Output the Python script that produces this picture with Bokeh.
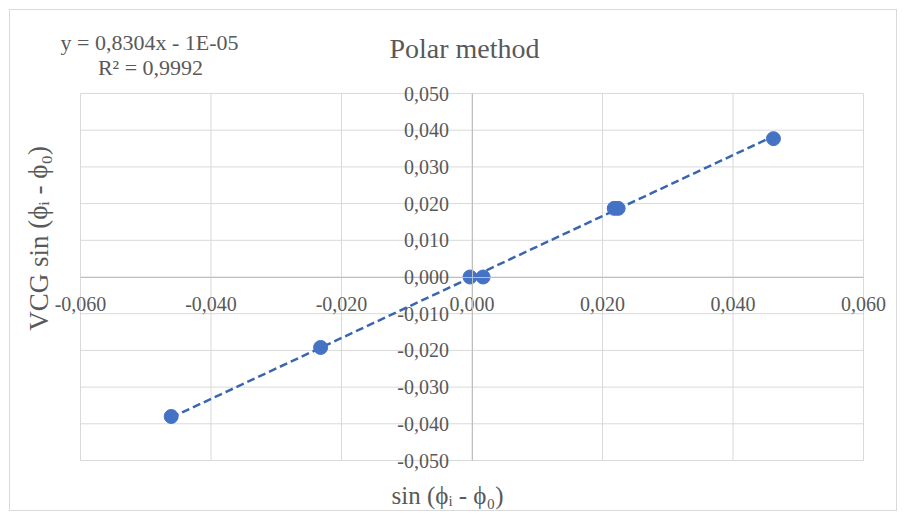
from bokeh.plotting import figure
from bokeh.models import FixedTicker, CustomJSTickFormatter, Label, Range1d
from bokeh.embed import file_html
from bokeh.resources import INLINE

# ---- data ----
x_vals = [-0.0461, -0.0232, -0.0003, 0.0017, 0.0218, 0.0224, 0.0462]
y_vals = [-0.0380, -0.0192, 0.0000, 0.0000, 0.0187, 0.0187, 0.0377]
slope = 0.8304
intercept = -1e-05
x_ticks = [-0.06, -0.04, -0.02, 0.0, 0.02, 0.04, 0.06]
y_ticks = [-0.05, -0.04, -0.03, -0.02, -0.01, 0.0, 0.01, 0.02, 0.03, 0.04, 0.05]
title_text = "Polar method"
eq_text = "y = 0,8304x - 1E-05"
r2_text = "R² = 0,9992"
x_label = "sin (ϕᵢ - ϕ₀)"
y_label = "VCG sin (ϕᵢ - ϕ₀)"

# ---- layout (canvas pixels) ----
W, H = 888, 502
OFF = 10                       # page offset of canvas (margin + border)
PL, PR, PT, PB = 70, 853, 83, 450   # plot-area edges on the canvas
XMIN, XMAX, YMIN, YMAX = x_ticks[0], x_ticks[-1], y_ticks[0], y_ticks[-1]
sx = (PR - PL) / (XMAX - XMIN)
sy = (PB - PT) / (YMAX - YMIN)
x_lo = XMIN - PL / sx
x_hi = XMAX + (W - PR) / sx
y_hi = YMAX + PT / sy
y_lo = YMIN - (H - PB) / sy

p = figure(width=W, height=H, output_backend="svg", toolbar_location=None,
           x_range=Range1d(x_lo, x_hi), y_range=Range1d(y_lo, y_hi),
           min_border=0)
p.styles = {"margin": "9px", "border": "1px solid #d9d9d9"}
p.outline_line_color = None
p.background_fill_color = "white"
p.border_fill_color = "white"
p.grid.visible = False

font = "'Liberation Serif', 'DejaVu Serif', serif"
grey = "#595959"
gridc = "#d9d9d9"

# grid lines limited to the plot area
p.segment(x0=x_ticks, y0=[YMIN] * len(x_ticks), x1=x_ticks, y1=[YMAX] * len(x_ticks),
          line_color=gridc, line_width=1)
p.segment(x0=[XMIN] * len(y_ticks), y0=y_ticks, x1=[XMAX] * len(y_ticks), y1=y_ticks,
          line_color=gridc, line_width=1)

fmt = CustomJSTickFormatter(code="return tick.toFixed(3).replace('.', ',');")
for ax, ticks, b in ((p.xaxis, x_ticks, (XMIN, XMAX)), (p.yaxis, y_ticks, (YMIN, YMAX))):
    ax.ticker = FixedTicker(ticks=ticks)
    ax.formatter = fmt
    ax.fixed_location = 0
    ax.bounds = b
    ax.axis_line_color = "#bfbfbf"
    ax.axis_line_width = 1
    ax.major_tick_line_color = None
    ax.minor_tick_line_color = None
    ax.major_label_text_font = font
    ax.major_label_text_font_size = "20px"
    ax.major_label_text_color = grey
p.xaxis.major_label_standoff = 14
p.yaxis.major_label_standoff = 17

# trendline
tx = [min(x_vals), max(x_vals)]
ty = [slope * v + intercept for v in tx]
p.line(tx, ty, line_color="#3a66b0", line_width=2.5, line_dash="8 4")

p.scatter(x_vals, y_vals, size=14, fill_color="#4472c4", line_color="#4472c4")


def dx(px):
    return x_lo + (px - OFF) / sx


def dy(py):
    return y_hi - (py - OFF) / sy


def add_label(text, px, py, size, angle=0.0):
    p.add_layout(Label(x=dx(px), y=dy(py), text=text, text_font=font,
                       text_font_size=size, text_color=grey, text_align="center",
                       text_baseline="middle", angle=angle))


add_label(title_text, 464, 48, "28px")
add_label(eq_text, 149, 42, "22px")
add_label(r2_text, 150, 67, "22px")
add_label(x_label, 447, 495, "25px")
add_label(y_label, 38, 238, "27px", angle=1.5708)

open("out.html", "w").write(file_html(p, INLINE))
